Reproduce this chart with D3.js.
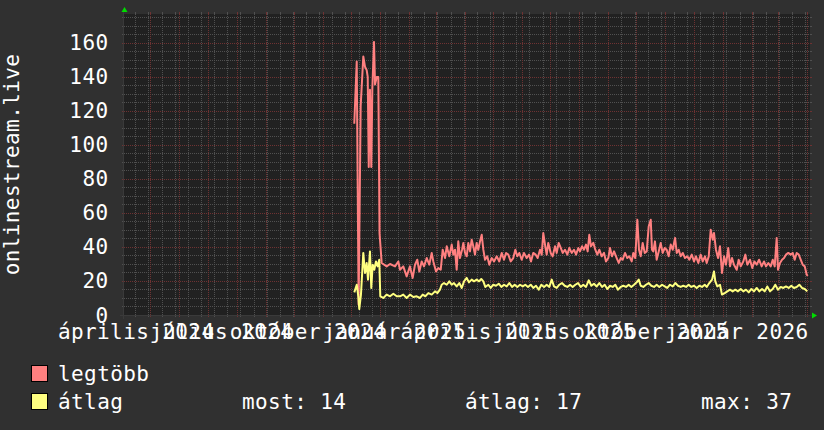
<!DOCTYPE html>
<html>
<head>
<meta charset="utf-8">
<script src="https://cdn.jsdelivr.net/npm/d3@7"></script>
<style>
  body { margin: 0; background: #303030; }
  svg text { font-family: 'DejaVu Sans Mono', monospace; font-size: 21px; letter-spacing: 0.4px; fill: #ffffff; }
</style>
</head>
<body>
<svg id="graph" width="824" height="430"></svg>
<script>
// napok 2024-12-01 ota, ertek
var dataStart = Date.UTC(2024, 11, 1);

var legtobb = [
  [3.4,112.5],[6.0,149],[8.0,6],[10.2,123],[13.0,152],[14.8,146],[16.6,144],[17.7,140],[18.8,87],[20.1,132.5],
  [21.5,87],[22.6,132.5],[24.4,160.6],[25.5,135.5],[27.3,140],[29.0,140],[30.3,48],[32.6,30.6],[37.9,28.6],[41.5,30],
  [46.8,28.6],[50.3,31.5],[52.1,26.6],[55.6,28.6],[59.2,22.7],[62.7,28.6],[65.6,21.8],[68.1,29.6],[70.5,32.5],[72.7,25.6],
  [75.2,31.5],[77.7,28.6],[80.6,33.5],[83.3,29.6],[85.9,36.5],[87.6,31.5],[90.5,25.6],[92.9,27.6],[95.5,26.6],[97.6,38.4],
  [100.1,33.5],[101.9,40.4],[104.6,34.5],[107.2,41.4],[108.9,35.5],[110.7,38.4],[112.5,26.6],[114.2,43.3],[116.0,33.5],[118.2,38.4],
  [119.6,42.4],[121.4,36.5],[123.2,34.5],[124.9,42.4],[126.7,37.4],[128.5,44.3],[130.2,40.4],[132.0,35.5],[133.8,42.4],[135.5,38.4],
  [137.4,43.3],[139.2,47.2],[140.9,38.4],[142.7,32.5],[145.1,34.5],[147.3,29.6],[149.8,33.5],[152.3,31.5],[155.2,34.5],[157.9,31.5],
  [160.5,36.5],[162.9,32.5],[165.1,36.5],[167.5,35.5],[170.1,31.5],[172.8,33.5],[175.0,38.4],[177.1,34.5],[179.2,36.5],[181.8,32.5],
  [184.2,36.5],[187.1,33.5],[189.6,35.5],[191.7,31.5],[194.1,36.5],[196.7,35.5],[198.8,33.5],[201.3,38.4],[203.1,35.5],[204.8,48.2],
  [206.9,40.4],[208.4,35.5],[210.1,42.4],[212.7,36.5],[214.8,34.5],[217.3,40.4],[219.1,36.5],[221.2,42.4],[223.4,39.4],[225.5,36.5],
  [227.9,38.4],[230.4,35.5],[232.5,39.4],[235.1,36.5],[237.5,38.4],[239.7,35.5],[242.1,39.4],[243.9,37.4],[246.1,40.4],[248.2,38.4],
  [250.3,41.4],[252.1,37.4],[253.8,47.2],[255.6,40.4],[258.1,42.4],[260.2,38.4],[262.4,35.5],[264.5,38.4],[267.0,34.5],[269.5,36.5],
  [271.6,31.5],[274.1,33.5],[275.9,39.4],[278.0,34.5],[280.2,37.4],[283.0,33.5],[285.2,30.6],[287.3,33.5],[289.4,32.5],[291.9,36.5],
  [294.3,33.5],[296.5,34.5],[299.0,31.5],[300.7,36.5],[302.8,33.5],[305.0,56],[306.8,38.4],[308.6,34.5],[310.7,42.4],[312.9,36.5],
  [315.0,37.4],[317.1,52],[319.3,56],[320.6,38.4],[322.0,37.4],[323.8,43.3],[325.6,32.5],[327.8,37.4],[329.9,42.4],[332.0,36.5],
  [334.2,39.4],[336.3,38.4],[338.4,34.5],[340.6,41.4],[342.7,38.4],[345.2,45.3],[347.0,36.5],[349.1,38.4],[351.2,34.5],[353.4,36.5],
  [355.8,33.5],[358.3,34.5],[360.4,32.5],[363.0,35.5],[365.4,31.5],[367.5,34.5],[370.0,30.6],[372.5,35.5],[374.7,31.5],[377.1,34.5],
  [378.9,30.6],[381.1,34.5],[383.2,50.2],[385.3,44.3],[386.7,48.2],[388.8,38.4],[391.0,33.5],[393.1,40.4],[395.2,24.7],[397.4,34.5],
  [399.5,29.6],[401.9,39.4],[403.8,28.6],[405.9,33.5],[408.0,29.6],[410.9,26.6],[413.0,32.5],[415.2,28.6],[417.9,31.5],[420.1,35.5],
  [422.2,29.6],[425.1,32.5],[427.5,27.6],[429.7,31.5],[432.2,29.6],[434.7,32.5],[437.5,28.6],[440.0,31.5],[442.1,28.6],[444.6,30.6],
  [447.1,28.6],[449.3,32.5],[451.4,28.6],[453.5,45.3],[454.9,26.6],[457.0,30.6],[459.2,32.5],[461.3,33.5],[463.4,35.5],[465.9,36.5],
  [468.4,35.5],[470.6,36.5],[472.7,32.5],[474.8,36.5],[477.0,35.5],[479.1,32.5],[481.2,29.6],[483.4,28.6],[485.5,23.7],[486.6,23]
];

var atlag = [
  [3.4,13.3],[6.0,17.8],[7.7,11],[8.7,3.5],[10.5,12],[13.0,36.5],[14.8,24.7],[16.6,30.6],[18.0,20.8],[20.1,37.4],
  [21.5,15.9],[23.0,29.6],[24.7,26.6],[26.5,31.5],[28.3,28.6],[30.0,32.5],[31.1,11],[34.3,10],[37.9,12],[41.5,11],
  [45.0,12.5],[48.6,11],[52.1,11],[55.6,12],[59.2,10],[62.7,12],[66.3,10.6],[69.9,11],[73.4,10],[76.3,12],
  [79.1,11],[82.3,12.9],[85.9,12],[89.4,13.9],[91.9,12.9],[94.7,14.9],[96.5,17.8],[99.0,18.8],[101.9,17.8],[104.6,19.8],
  [107.2,17.8],[109.6,18.8],[112.5,16.8],[115.3,18.8],[117.9,15.9],[120.3,19.8],[123.2,21.8],[125.6,19.2],[128.5,20.8],[131.0,19.8],
  [133.8,20.8],[136.3,19.8],[138.7,21.2],[140.9,19.8],[143.0,16.5],[146.2,17.8],[148.8,15.9],[151.5,17.8],[154.4,17.2],[157.3,18.4],
  [160.1,16.5],[162.9,17.8],[165.8,16.8],[168.6,18.8],[171.5,16.5],[174.3,17.8],[177.1,16.5],[180.0,17.8],[182.9,16.8],[185.6,17.8],
  [188.5,16.5],[191.4,17.8],[194.1,15.9],[197.0,17.2],[199.9,14.9],[202.7,17.8],[205.6,16.5],[208.4,17.8],[211.2,16.5],[213.8,20.8],
  [216.2,16.8],[219.1,15.9],[221.9,17.8],[224.7,18.8],[227.6,17.2],[230.4,16.5],[233.3,17.8],[236.1,16.5],[238.9,17.8],[241.8,18.8],
  [244.7,16.5],[247.4,17.8],[250.3,16.5],[253.2,20.4],[256.0,17.2],[258.8,18.4],[261.7,16.8],[264.5,18.8],[267.4,16.5],[270.2,17.8],
  [273.0,15.3],[275.9,17.2],[278.8,16.5],[281.5,17.8],[284.4,14.9],[287.3,16.5],[290.1,17.2],[292.9,16.5],[295.8,17.8],[298.6,16.5],
  [301.5,17.8],[304.3,19.2],[306.5,20.8],[308.6,17.2],[311.4,16.5],[314.2,17.8],[317.1,18.8],[319.9,17.2],[322.8,16.5],[325.6,17.8],
  [328.4,16.5],[331.3,17.8],[334.2,16.8],[336.9,15.9],[339.8,17.8],[342.7,16.8],[345.5,18.8],[348.3,17.2],[351.2,16.5],[354.0,17.2],
  [356.9,16.5],[359.7,17.8],[362.5,16.5],[365.4,17.2],[368.3,15.9],[371.0,17.2],[373.9,16.5],[376.8,17.8],[378.9,16.5],[381.7,18.8],
  [384.6,20.8],[386.7,25.6],[388.1,19.8],[390.2,16.8],[393.1,17.8],[395.2,12],[398.1,12.9],[400.9,13.9],[403.8,14.9],[406.6,13.9],
  [409.4,14.9],[412.3,13.9],[415.2,15.3],[417.9,13.9],[420.8,14.9],[423.7,13.3],[426.5,15.3],[429.3,13.9],[432.2,15.9],[435.0,13.9],
  [437.9,15.3],[440.7,13.9],[443.5,16.8],[446.4,13.9],[449.3,15.3],[452.0,17.8],[454.9,14.9],[457.8,16.5],[460.6,15.9],[463.4,16.8],
  [466.3,15.9],[469.1,17.2],[471.9,15.9],[474.8,16.5],[477.6,17.8],[480.5,15.9],[483.4,15.3],[486.1,13.9]
];

// x tengely feliratok (honap kezdete + felirat)
var labelMonths = ['2024-04-01','2024-07-01','2024-10-01','2025-01-01','2025-04-01','2025-07-01','2025-10-01','2026-01-01'];
var labelTexts = ['április 2024','július 2024','október 2024','január 2025','április 2025','július 2025','október 2025','január 2026'];

var yMajor = [0,20,40,60,80,100,120,140,160];

var legendItems = [
  {name: 'legtöbb', color: '#ff8080', stats: []},
  {name: 'átlag', color: '#ffff80', stats: ['most: 14', 'átlag: 17', 'max: 37']}
];

var pLeft = 124, pRight = 810, pTop = 14, pBottom = 315;

var svg = d3.select('#graph');

var xs = d3.scaleUtc()
  .domain([new Date(Date.UTC(2024, 3, 3)), new Date(Date.UTC(2026, 3, 4))])
  .range([pLeft, pRight]);
var ys = d3.scaleLinear().domain([0, 177]).range([pBottom, pTop]);

function toDate(d) { return new Date(dataStart + d * 864e5); }

// hatter
svg.append('rect').attr('x', 0).attr('y', 0).attr('width', 824).attr('height', 430).attr('fill', '#303030');
svg.append('rect').attr('x', pLeft).attr('y', pTop).attr('width', pRight - pLeft).attr('height', pBottom - pTop).attr('fill', '#212121');

var grid = svg.append('g').attr('shape-rendering', 'crispEdges');

// minor racs - ketheti hetfo
var minorX = [];
for (var t = new Date(Date.UTC(2024, 3, 15)); t < xs.domain()[1]; t = d3.utcDay.offset(t, 14)) minorX.push(t);
var majorX = d3.utcMonth.range(xs.domain()[0], xs.domain()[1]);
var minorY = d3.range(5, 177, 5).filter(function(v) { return v % 20 != 0; });

function vline(list, color) {
  list.forEach(function(d) {
    var px = Math.round(xs(d)) + 0.5;
    grid.append('line').attr('x1', px).attr('x2', px).attr('y1', pTop).attr('y2', pBottom)
      .attr('stroke', color).attr('stroke-dasharray', '1,1');
    grid.append('line').attr('x1', px).attr('x2', px).attr('y1', pTop - 2).attr('y2', pTop).attr('stroke', color);
    grid.append('line').attr('x1', px).attr('x2', px).attr('y1', pBottom).attr('y2', pBottom + 2).attr('stroke', color);
  });
}
function hline(list, color) {
  list.forEach(function(v) {
    var py = Math.round(ys(v)) + 0.5;
    grid.append('line').attr('x1', pLeft).attr('x2', pRight).attr('y1', py).attr('y2', py)
      .attr('stroke', color).attr('stroke-dasharray', '1,1');
    grid.append('line').attr('x1', pLeft - 2).attr('x2', pLeft).attr('y1', py).attr('y2', py).attr('stroke', color);
    grid.append('line').attr('x1', pRight).attr('x2', pRight + 2).attr('y1', py).attr('y2', py).attr('stroke', color);
  });
}
vline(minorX, '#505050');
hline(minorY, '#505050');
vline(majorX, '#6e3232');
hline(yMajor.filter(function(v) { return v > 0; }), '#6e3232');

// tengelyek
grid.append('line').attr('x1', pLeft - 0.5).attr('x2', pLeft - 0.5).attr('y1', pBottom + 4).attr('y2', pTop - 4).attr('stroke', '#3a3a3a');
grid.append('line').attr('x1', pLeft - 4).attr('x2', pRight + 2).attr('y1', pBottom + 0.5).attr('y2', pBottom + 0.5).attr('stroke', '#3a3a3a');
svg.append('path').attr('d', 'M' + (pLeft - 2.5) + ',' + (pTop - 2) + 'L' + (pLeft + 0.5) + ',' + (pTop - 7) + 'L' + (pLeft + 3.5) + ',' + (pTop - 2) + 'Z').attr('fill', '#00dd00');
svg.append('path').attr('d', 'M' + (pRight + 2) + ',' + (pBottom - 2.5) + 'L' + (pRight + 7) + ',' + (pBottom + 0.5) + 'L' + (pRight + 2) + ',' + (pBottom + 3.5) + 'Z').attr('fill', '#00dd00');

// vonalak
var line = d3.line().x(function(d) { return xs(toDate(d[0])); }).y(function(d) { return ys(d[1]); });
svg.append('path').datum(legtobb).attr('d', line).attr('fill', 'none').attr('stroke', '#ff8080').attr('stroke-width', 2).attr('stroke-linejoin', 'round');
svg.append('path').datum(atlag).attr('d', line).attr('fill', 'none').attr('stroke', '#ffff80').attr('stroke-width', 2).attr('stroke-linejoin', 'round');

// y feliratok
svg.selectAll('text.ylab').data(yMajor).enter().append('text')
  .attr('class', 'ylab')
  .attr('x', 108.5)
  .attr('y', function(d) { return ys(d) + 7.5; })
  .attr('text-anchor', 'end')
  .text(function(d) { return d; });

// x feliratok - honap kozepere (precis/2 = 15 nap)
svg.selectAll('text.xlab').data(labelMonths).enter().append('text')
  .attr('class', 'xlab')
  .attr('x', function(d) { return xs(d3.utcDay.offset(new Date(d + 'T00:00:00Z'), 15)); })
  .attr('y', 339)
  .attr('text-anchor', 'middle')
  .text(function(d, i) { return labelTexts[i]; });

svg.append('text')
  .attr('transform', 'translate(19,' + ((pTop + pBottom) / 2) + ') rotate(-90)')
  .attr('text-anchor', 'middle')
  .text('onlinestream.live');

// jelmagyarazat
var statX = [242, 465, 701];
legendItems.forEach(function(item, i) {
  var base = 381 + i * 28;
  svg.append('rect').attr('x', 31.5).attr('y', base - 15.5).attr('width', 16).attr('height', 16)
    .attr('fill', item.color).attr('stroke', '#000').attr('stroke-width', 1);
  svg.append('text').attr('x', 58).attr('y', base).text(item.name);
  item.stats.forEach(function(s, j) {
    svg.append('text').attr('x', statX[j]).attr('y', base).text(s);
  });
});
</script>
</body>
</html>
